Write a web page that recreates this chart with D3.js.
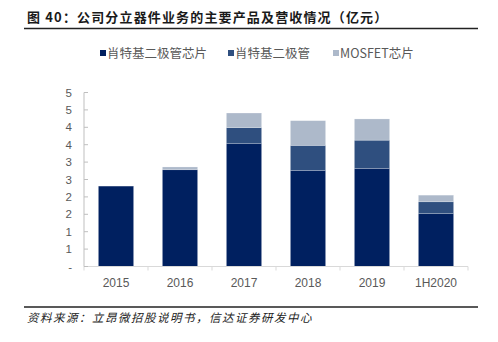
<!DOCTYPE html>
<html>
<head>
<meta charset="utf-8">
<script src="https://cdn.jsdelivr.net/npm/d3@7"></script>
<style>
  body { margin: 0; background: #fff; }
  svg { display: block; }
</style>
</head>
<body>
<script>
// Revenue of discrete-device products (100M yuan)
const years = ["2015", "2016", "2017", "2018", "2019", "1H2020"];
const seriesNames = ["肖特基二极管芯片", "肖特基二极管", "MOSFET芯片"];
const schottkyChip = [2.31, 2.78, 3.54, 2.76, 2.82, 1.52];
const schottkyDiode = [0.00, 0.00, 0.45, 0.72, 0.81, 0.34];
const mosfetChip = [0.00, 0.08, 0.42, 0.71, 0.61, 0.19];
const yTicks = [0, 0.5, 1, 1.5, 2, 2.5, 3, 3.5, 4, 4.5, 5];

const colors = ["#002060", "#2f4f7f", "#adb9ca"];

const w = 498, h = 342;
const margin = {left: 84, right: 30, top: 92.5, bottom: 75.5};

const svg = d3.select("body").append("svg")
    .attr("width", w)
    .attr("height", h);

// Title and rules
svg.append("text")
    .attr("x", 27)
    .attr("y", 22)
    .attr("font-family", "Noto Sans CJK SC")
    .attr("font-weight", "bold")
    .attr("font-size", 13)
    .attr("letter-spacing", 1.15)
    .attr("fill", "#1a1a1a")
    .text("图 40：公司分立器件业务的主要产品及营收情况（亿元）");

svg.append("line")
    .attr("x1", 24).attr("x2", 478)
    .attr("y1", 28.5).attr("y2", 28.5)
    .attr("stroke", "#222").attr("stroke-width", 1.5);

svg.append("line")
    .attr("x1", 24).attr("x2", 478)
    .attr("y1", 307).attr("y2", 307)
    .attr("stroke", "#222").attr("stroke-width", 1.5);

svg.append("text")
    .attr("x", 27)
    .attr("y", 322)
    .attr("font-family", "Noto Sans CJK SC")
    .attr("font-style", "italic")
    .attr("font-size", 11.5)
    .attr("letter-spacing", 1.5)
    .attr("fill", "#222")
    .text("资料来源：立昂微招股说明书，信达证券研发中心");

// Scales
const x = d3.scaleBand()
    .domain(years)
    .range([margin.left, w - margin.right])
    .paddingInner(0.45)
    .paddingOuter(0.225);

const y = d3.scaleLinear()
    .domain([0, 5])
    .range([h - margin.bottom, margin.top]);

// Stack the three series
const rows = years.map((yr, i) => ({
    year: yr,
    s0: schottkyChip[i],
    s1: schottkyDiode[i],
    s2: mosfetChip[i]
}));
const stack = d3.stack().keys(["s0", "s1", "s2"]);
const layers = stack(rows);

svg.append("g")
    .selectAll("g")
    .data(layers)
    .join("g")
    .attr("fill", (d, i) => colors[i])
    .selectAll("rect")
    .data(d => d.filter(p => p[1] - p[0] > 0))
    .join("rect")
    .attr("x", d => x(d.data.year))
    .attr("width", x.bandwidth())
    .attr("y", d => y(d[1]))
    .attr("height", d => y(d[0]) - y(d[1]))
    .attr("stroke", "#ffffff")
    .attr("stroke-opacity", 0.35)
    .attr("stroke-width", 0.6);

// X axis: light baseline with ticks between categories
const base = y(0);
const xg = svg.append("g");
xg.append("line")
    .attr("x1", margin.left).attr("x2", w - margin.right)
    .attr("y1", base).attr("y2", base)
    .attr("stroke", "#d9d9d9");
const step = x.step();
xg.selectAll(".xt")
    .data(d3.range(years.length + 1))
    .join("line")
    .attr("x1", i => margin.left + i * step)
    .attr("x2", i => margin.left + i * step)
    .attr("y1", base).attr("y2", base + 4)
    .attr("stroke", "#d9d9d9");
xg.selectAll(".xl")
    .data(years)
    .join("text")
    .attr("x", d => x(d) + x.bandwidth() / 2)
    .attr("y", base + 20)
    .attr("text-anchor", "middle")
    .attr("font-family", "Liberation Sans, Arial, sans-serif")
    .attr("font-size", 12)
    .attr("fill", "#595959")
    .text(d => d);

// Y axis: grey line with inner ticks and whole-number labels
const yg = svg.append("g");
yg.append("line")
    .attr("x1", margin.left).attr("x2", margin.left)
    .attr("y1", y(5)).attr("y2", base)
    .attr("stroke", "#bfbfbf");
yg.selectAll(".yt")
    .data(yTicks)
    .join("line")
    .attr("x1", margin.left).attr("x2", margin.left + 4)
    .attr("y1", d => y(d)).attr("y2", d => y(d))
    .attr("stroke", "#bfbfbf");
const fmt = v => v === 0 ? "-" : String(Math.floor(v + 0.5));
yg.selectAll(".yl")
    .data(yTicks)
    .join("text")
    .attr("x", 72)
    .attr("y", d => y(d) + 4)
    .attr("text-anchor", "end")
    .attr("font-family", "Liberation Sans, Arial, sans-serif")
    .attr("font-size", 11.5)
    .attr("fill", "#595959")
    .text(fmt);

// Legend
const legendX = [100, 228, 333];
const lg = svg.append("g")
    .selectAll("g")
    .data(seriesNames)
    .join("g")
    .attr("transform", (d, i) => `translate(${legendX[i]},53)`);
lg.append("rect")
    .attr("x", 0).attr("y", -3)
    .attr("width", 6).attr("height", 6)
    .attr("fill", (d, i) => colors[i]);
lg.append("text")
    .attr("x", 7)
    .attr("y", 4.5)
    .attr("font-family", "Noto Sans CJK SC, Liberation Sans, sans-serif")
    .attr("font-size", 12.5)
    .attr("fill", "#595959")
    .text(d => d);
</script>
</body>
</html>
